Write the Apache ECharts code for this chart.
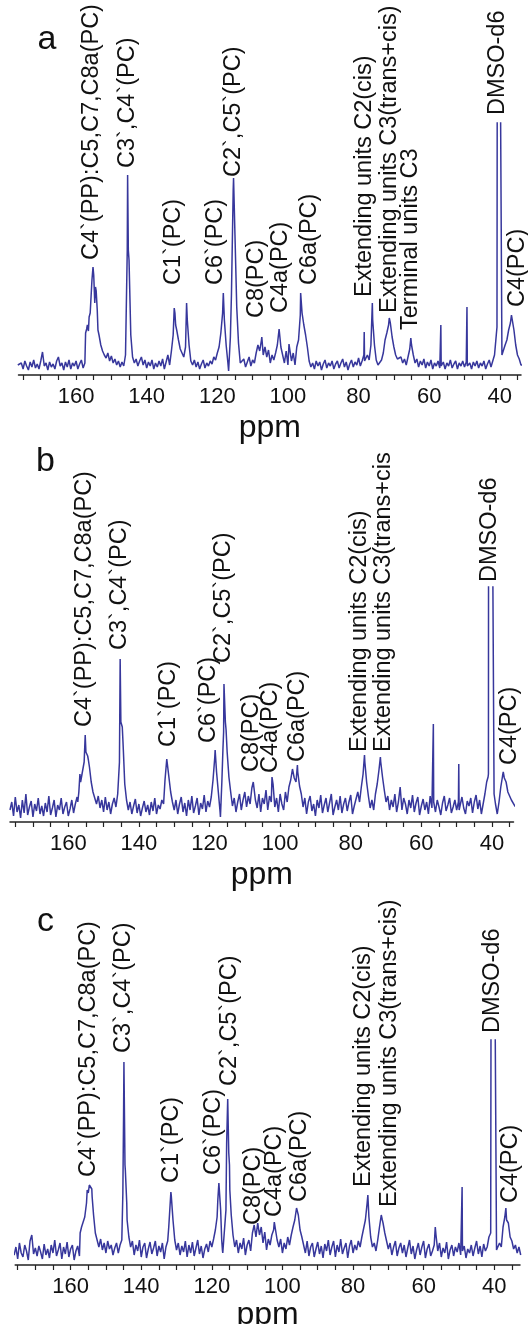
<!DOCTYPE html>
<html><head><meta charset="utf-8">
<script src="https://cdn.jsdelivr.net/npm/echarts@6/dist/echarts.min.js"></script>
<style>html,body{margin:0;padding:0;background:#fff}#c{width:528px;height:1324px}</style>
</head><body><div id="c"></div>
<script>
const FONT = '"Liberation Sans", Arial, sans-serif';
const LINE_COLOR = '#37379c';

// chemical shift sampling grid (ppm)
const ppmGrid = [
 176.5,176,175.5,175,174.5,174,173.5,173,172.5,172,171.5,171,170.5,170,169.5,169,168.5,168,167.5,167,
 166.5,166,165.5,165,164.5,164,163.5,163,162.5,162,161.5,161,160.5,160,159.5,159,158.5,158,157.5,157,
 156.5,156,155.5,155,154.5,154,153.5,153,152.5,152,151.5,151,150.5,150,149.5,149,148.5,148,147.5,147,
 146.5,146,145.5,145,144.5,144,143.5,143,142.5,142,141.5,141,140.5,140,139.5,139,138.5,138,137.5,137,
 136.5,136,135.5,135,134.5,134,133.5,133,132.5,132,131.5,131,130.5,130,129.5,129,128.5,128,127.5,127,
 126.5,126,125.5,125,124.5,124,123.5,123,122.5,122,121.5,121,120.5,120,119.5,119,118.5,118,117.5,117,
 116.5,116,115.5,115,114.5,114,113.5,113,112.5,112,111.5,111,110.5,110,109.5,109,108.5,108,107.5,107,
 106.5,106,105.5,105,104.5,104,103.5,103,102.5,102,101.5,101,100.5,100,99.5,99,98.5,98,97.5,97,
 96.5,96,95.5,95,94.5,94,93.5,93,92.5,92,91.5,91,90.5,90,89.5,89,88.5,88,87.5,87,
 86.5,86,85.5,85,84.5,84,83.5,83,82.5,82,81.5,81,80.5,80,79.5,79,78.5,78,77.5,77,
 76.5,76,75.5,75,74.5,74,73.5,73,72.5,72,71.5,71,70.5,70,69.5,69,68.5,68,67.5,67,
 66.5,66,65.5,65,64.5,64,63.5,63,62.5,62,61.5,61,60.5,60,59.5,59,58.5,58,57.5,57,
 56.5,56,55.5,55,54.5,54,53.5,53,52.5,52,51.5,51,50.5,50,49.5,49,48.5,48,47.5,47,
 46.5,46,45.5,45,44.5,44,43.5,43,42.5,42,41.5,41,40.5,40,39.5,39,38.5,38,37.5,37,
 36.5,36,35.5,35,34.5,34,33.5,33,32.5
];

// ---- spectrum a ----
const intensityA = [
 10,8,12,6,14,9,5,13,8,15,7,11,6,14,23,9,12,5,13,8,
 11,6,14,18,9,12,5,13,8,15,6,12,9,14,6,11,15,7,12,46,
 44,62,95,100,88,65,40,30,24,20,17,22,14,19,12,16,10,14,8,13,
 9,20,125,115,40,18,12,16,9,14,18,10,15,7,13,9,15,6,12,8,
 14,9,16,6,13,20,10,24,40,62,45,35,26,22,18,28,55,30,14,10,
 15,8,13,6,11,15,7,12,9,14,11,18,15,22,28,42,62,55,30,12,
 6,80,185,140,68,32,12,10,16,8,13,18,9,15,12,22,30,24,35,20,
 28,18,25,12,20,15,22,30,46,28,20,12,24,10,30,14,22,10,28,35,
 60,62,50,40,28,14,8,12,6,14,9,13,5,11,15,7,12,9,14,6,
 11,14,7,12,16,8,13,5,11,15,8,13,10,17,9,14,20,12,20,15,
 30,55,30,15,10,8,15,22,35,42,50,52,38,28,20,16,14,18,12,16,
 10,18,26,30,20,12,16,8,14,10,16,7,13,9,15,6,12,9,14,7,
 11,13,6,12,9,15,7,11,14,6,12,9,14,8,13,10,12,6,13,9,
 14,7,12,9,14,6,11,15,8,14,20,40,400,400,400,22,30,35,45,52,
 58,45,30,20,16,10,8,10,8
];
const peakPointsA = [
 [157.4,10],[157.3,42],[156.8,50],[156.3,58],[155.2,108],[154.7,72],[154.3,84],[153.8,45],
 [145.4,200],[145.2,125],[144.8,85],[132.2,67],[131.8,50],[128.7,72],[118.3,82],[116.8,4],
 [116.3,38],[115.4,197],[107.4,38],[102.4,48],[99.7,31],[96.4,82],[78.4,43],[78.3,14],
 [76.1,72],[71.3,57],[65.2,37],[56.7,50],[56.6,9],[49.3,68],[49.2,9],[40.8,48],[40.7,400],
 [39.4,20],[36.7,60]
];
const labelsA = [
 ['C4`(PP):C5,C7,C8a(PC)',155.6,115],['C3`,C4`(PC)',145.4,207],['C1`(PC)',132.4,90],
 ['C6`(PC)',120.6,90],['C2`,C5`(PC)',115.5,198],['C8(PC)',108.8,57],['C4a(PC)',102.0,62],
 ['C6a(PC)',94.0,90],['Extending units C2(cis)',78.4,78],['Extending units C3(trans+cis)',71.1,62],
 ['Terminal units C3',65.2,45],['DMSO-d6',40.7,260],['C4(PC)',35.1,68]
];

// ---- spectrum b ----
const intensityB = [
 12,20,6,25,10,17,4,22,9,28,7,15,21,5,18,11,24,8,16,6,
 19,10,26,7,14,22,5,17,12,24,8,15,20,6,13,22,9,18,25,30,
 40,42,60,70,66,55,40,30,24,18,26,14,22,10,25,12,20,8,18,24,
 15,28,60,98,80,38,22,12,20,8,16,23,9,18,6,14,21,10,17,7,
 20,11,24,8,17,13,22,18,40,60,45,30,20,12,22,8,18,25,10,19,
 6,22,12,26,9,16,24,7,19,13,27,10,21,15,25,42,65,50,30,10,
 40,90,100,70,45,30,16,24,10,20,28,12,22,30,15,26,18,34,42,22,
 14,28,10,24,18,32,12,26,20,38,15,24,10,28,18,12,30,20,35,42,
 53,44,40,50,36,28,15,24,8,20,26,11,18,6,22,14,27,9,17,24,
 10,19,28,7,15,22,12,26,9,18,24,11,20,27,8,16,23,30,20,35,
 48,60,40,26,14,22,12,28,38,52,60,45,32,20,26,12,22,15,28,10,
 20,35,12,24,18,8,22,14,27,10,19,25,7,16,23,12,20,8,26,14,
 20,10,22,15,7,19,26,11,17,24,9,15,22,12,20,10,25,14,8,21,
 16,24,9,20,27,13,22,8,18,28,40,48,400,400,400,18,8,20,35,46,
 44,40,30,32,22,20,16,14,12
];
const peakPointsB = [
 [157.3,20],[156.7,48],[155.2,87],[154.9,68],[154.3,62],[145.3,163],[145.1,100],[144.7,95],
 [144.4,72],[132.6,42],[132.1,63],[118.4,72],[116.9,5],[116.2,72],[115.9,138],[115.3,92],
 [107.6,40],[102.3,45],[95.1,57],[76.1,67],[71.6,65],[56.6,98],[49.4,58],[49.3,12],
 [41.1,45],[40.95,400],[39.4,28],[36.8,50]
];
const labelsB = [
 ['C4`(PP):C5,C7,C8a(PC)',155.4,95],['C3`,C4`(PC)',145.5,172],['C1`(PC)',131.7,75],
 ['C6`(PC)',120.3,79],['C2`,C5`(PC)',115.9,159],['C8(PC)',108.0,50],['C4a(PC)',102.7,49],
 ['C6a(PC)',95.1,60],['Extending units C2(cis)',77.6,70],['Extending units C3(trans+cis',70.6,70],
 ['DMSO-d6',40.6,240],['C4(PC)',35.1,57]
];

// ---- spectrum c ----
const intensityC = [
 15,10,18,6,22,12,8,20,14,5,24,30,11,17,9,19,13,6,21,10,
 16,7,20,12,25,9,15,22,6,18,11,23,8,16,20,5,14,19,9,30,
 40,48,62,72,80,76,50,32,25,18,26,15,22,12,24,16,20,10,17,22,
 12,20,25,150,95,45,28,18,24,10,20,14,25,8,18,22,7,16,23,11,
 17,24,9,19,13,22,6,18,24,40,70,45,25,15,22,10,19,13,24,8,
 20,12,23,9,17,25,11,19,7,16,21,13,24,18,26,35,48,82,55,15,
 10,55,166,100,50,30,18,25,12,22,16,27,10,20,25,14,32,40,28,42,
 30,38,22,33,15,26,20,30,35,42,25,18,26,12,22,16,28,20,30,38,
 45,57,50,35,28,20,12,24,9,18,22,8,16,23,11,19,7,21,14,25,
 10,18,24,8,20,13,26,11,17,22,7,19,25,12,20,15,24,18,28,30,
 45,62,48,28,18,22,14,25,38,50,42,32,24,16,22,10,18,24,9,17,
 22,12,20,8,17,25,11,19,6,15,22,10,18,24,7,16,21,9,14,20,
 30,14,22,8,17,12,23,6,15,20,9,18,13,22,10,14,19,7,16,12,
 20,9,17,24,11,19,8,21,14,18,28,32,400,400,400,15,22,18,38,48,
 45,42,28,24,16,20,12,18,10
];
const peakPointsC = [
 [157.3,32],[156.9,38],[155.3,75],[154.7,80],[154.3,78],[153.9,68],[145.2,72],[144.9,203],
 [144.6,100],[144.1,62],[132.2,38],[131.6,73],[118.3,65],[117.2,25],[116.9,12],[115.8,122],
 [115.2,112],[114.9,75],[102.3,43],[75.8,70],[71.7,45],[56.7,38],[49.1,78],[40.85,400],
 [39.35,15],[36.7,57]
];
const labelsC = [
 ['C4`(PP):C5,C7,C8a(PC)',155.0,88],['C3`,C4`(PC)',144.9,212],['C1`(PC)',131.4,82],
 ['C6`(PC)',119.6,90],['C2`,C5`(PC)',115.1,179],['C8(PC)',108.3,40],['C4a(PC)',102.2,48],
 ['C6a(PC)',95.3,63],['Extending units C2(cis)',76.9,78],['Extending units C3(trans+cis)',69.8,58],
 ['DMSO-d6',40.5,232],['C4(PC)',35.3,62]
];

const tickValues = [175,170,165,160,155,150,145,140,135,130,125,120,115,110,105,100,95,90,85,80,75,70,65,60,55,50,45,40,35];
const tickLabels = [160,140,120,100,80,60,40];
const panelLetters = ['a','b','c'];

function spectrum(vals, extra) {
  const pts = ppmGrid.map((p, i) => [p, vals[i]]).concat(extra);
  pts.sort((u, v) => v[0] - u[0]);
  return pts;
}

const panels = [
  {data: spectrum(intensityA, peakPointsA), labels: labelsA, grid: {left: 18.5, right: 7, top: 123, bottom: 949}, xMin: 34.0, xMax: 176.3, yMax: 252, letter: [47, 40], nameGap: 37},
  {data: spectrum(intensityB, peakPointsB), labels: labelsB, grid: {left: 10, right: 14.5, top: 587, bottom: 502}, xMin: 33.9, xMax: 176.5, yMax: 235, letter: [45.5, 462], nameGap: 37},
  {data: spectrum(intensityC, peakPointsC), labels: labelsC, grid: {left: 15.2, right: 8, top: 1040, bottom: 59}, xMin: 32.7, xMax: 175.7, yMax: 225, letter: [45.5, 922], nameGap: 25}
];

const chart = echarts.init(document.getElementById('c'), null, {renderer: 'canvas'});
const option = {
  animation: false,
  backgroundColor: '#fff',
  textStyle: {fontFamily: FONT},
  grid: panels.map(p => Object.assign({containLabel: false, outerBoundsMode: 'none'}, p.grid)),
  xAxis: panels.map((p, i) => ({
    gridIndex: i, type: 'value', inverse: true, min: p.xMin, max: p.xMax,
    axisLine: {show: true, onZero: false, lineStyle: {color: '#222', width: 1.5}},
    axisTick: {show: true, inside: false, length: 5, customValues: tickValues, lineStyle: {color: '#222', width: 1.2}},
    axisLabel: {show: true, customValues: tickLabels, fontSize: 22, color: '#111', margin: 11, fontFamily: FONT},
    splitLine: {show: false},
    name: 'ppm', nameLocation: 'middle', nameGap: p.nameGap,
    nameTextStyle: {fontSize: 32, color: '#111', fontFamily: FONT}
  })),
  yAxis: panels.map((p, i) => ({gridIndex: i, type: 'value', min: 0, max: p.yMax, show: false})),
  graphic: panels.map((p, i) => ({
    type: 'text', x: p.letter[0], y: p.letter[1], silent: true,
    style: {text: panelLetters[i], fontSize: 34, fontFamily: FONT, fill: '#111', align: 'center', verticalAlign: 'middle'}
  })),
  series: panels.map((p, i) => ({
    type: 'line', xAxisIndex: i, yAxisIndex: i, data: p.data,
    showSymbol: false, symbol: 'none', clip: true, silent: true, sampling: null,
    lineStyle: {color: LINE_COLOR, width: 1.5},
    markPoint: {
      silent: true, symbol: 'circle', symbolSize: 0, animation: false,
      label: {show: true, position: 'inside', rotate: 90, align: 'left', verticalAlign: 'middle',
              fontSize: 23.5, color: '#111', fontFamily: FONT, formatter: q => q.name},
      data: p.labels.map(l => {
        const item = {name: l[0], coord: [l[1], Math.min(l[2], p.yMax)]};
        if (l[2] > p.yMax) item.label = {offset: [l[2] - p.yMax, 0]};
        return item;
      })
    }
  }))
};
chart.setOption(option);
</script>
</body></html>
